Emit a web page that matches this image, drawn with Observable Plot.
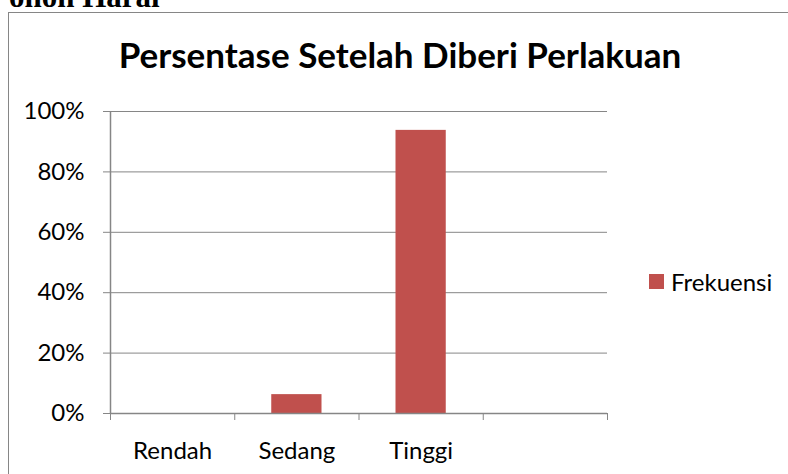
<!DOCTYPE html>
<html>
<head>
<meta charset="utf-8">
<script src="https://cdn.jsdelivr.net/npm/d3@7"></script>
<script src="https://cdn.jsdelivr.net/npm/@observablehq/plot@0.6"></script>
<style>
  html, body { margin: 0; padding: 0; background: #fff; }
  #wrap { position: relative; width: 788px; height: 474px; overflow: hidden; background: #fff; }
  #doc { position: absolute; left: 9px; top: -19px; font: bold 31px/31px "Liberation Serif", serif; color: #000; white-space: nowrap; }
  #frame { position: absolute; left: 8px; top: 12px; width: 800px; height: 500px; border-left: 1.5px solid #868686; border-top: 1.5px solid #868686; }
  #title { position: absolute; left: 0; width: 800px; top: 33px; text-align: center; font: bold 35px Lato, "Open Sans", sans-serif; color: #000; white-space: nowrap; }
  #chart { position: absolute; left: 0; top: 0; }
  #legend { position: absolute; left: 649px; top: 267px; height: 29px; font: 24px Lato, "Open Sans", sans-serif; color: #000; display: flex; align-items: center; white-space: nowrap; }
  #legend .sw { width: 15px; height: 15px; background: #C0504D; margin-right: 7px; }
</style>
</head>
<body>
<div id="wrap">
  <div id="doc">onon Harai</div>
  <div id="frame"></div>
  <div id="chart"></div>
  <div id="title">Persentase Setelah Diberi Perlakuan</div>
  <div id="legend"><div class="sw"></div><span>Frekuensi</span></div>
</div>
<script>
const categories = ["Rendah", "Sedang", "Tinggi", ""];
const values = [0, 0.0625, 0.9375, null];
const yTicks = [0, 0.2, 0.4, 0.6, 0.8, 1];
const seriesName = "Frekuensi";

const data = categories.map((c, i) => ({category: c, index: i, value: values[i]}));
const boundaries = d3.range(categories.length + 1);
const centers = categories.map((c, i) => i + 0.5);

const gray = "#868686";
const chart = Plot.plot({
  width: 788,
  height: 474,
  marginLeft: 110,
  marginRight: 181,
  marginTop: 111,
  marginBottom: 61,
  style: {background: "transparent", fontFamily: "Lato, 'Open Sans', sans-serif", color: "#000"},
  x: {type: "linear", domain: [0, categories.length]},
  y: {domain: [0, 1]},
  marks: [
    Plot.gridY(yTicks, {stroke: gray, strokeOpacity: 1, strokeWidth: 1}),
    Plot.rectY(data.filter(d => d.value != null && d.value > 0), {
      x1: d => d.index, x2: d => d.index + 1, y: "value",
      insetLeft: 37, insetRight: 37, fill: "#C0504D"
    }),
    Plot.ruleX([0], {y1: 0, y2: 1, stroke: gray, strokeWidth: 1.5}),
    Plot.ruleY([0], {stroke: gray, strokeWidth: 1.5}),
    Plot.axisY(yTicks, {
      tickFormat: d3.format(".0%"), tickSize: 7, tickPadding: 19,
      fontSize: 24, stroke: gray, color: "#000", label: null
    }),
    Plot.axisX(boundaries, {
      tickFormat: () => "", tickSize: 7, stroke: gray, label: null
    }),
    Plot.axisX(centers, {
      tickFormat: d => categories[Math.floor(d)], tickSize: 0, tickPadding: 28,
      fontSize: 24, color: "#000", label: null
    })
  ]
});
document.getElementById("chart").appendChild(chart);
</script>
</body>
</html>
